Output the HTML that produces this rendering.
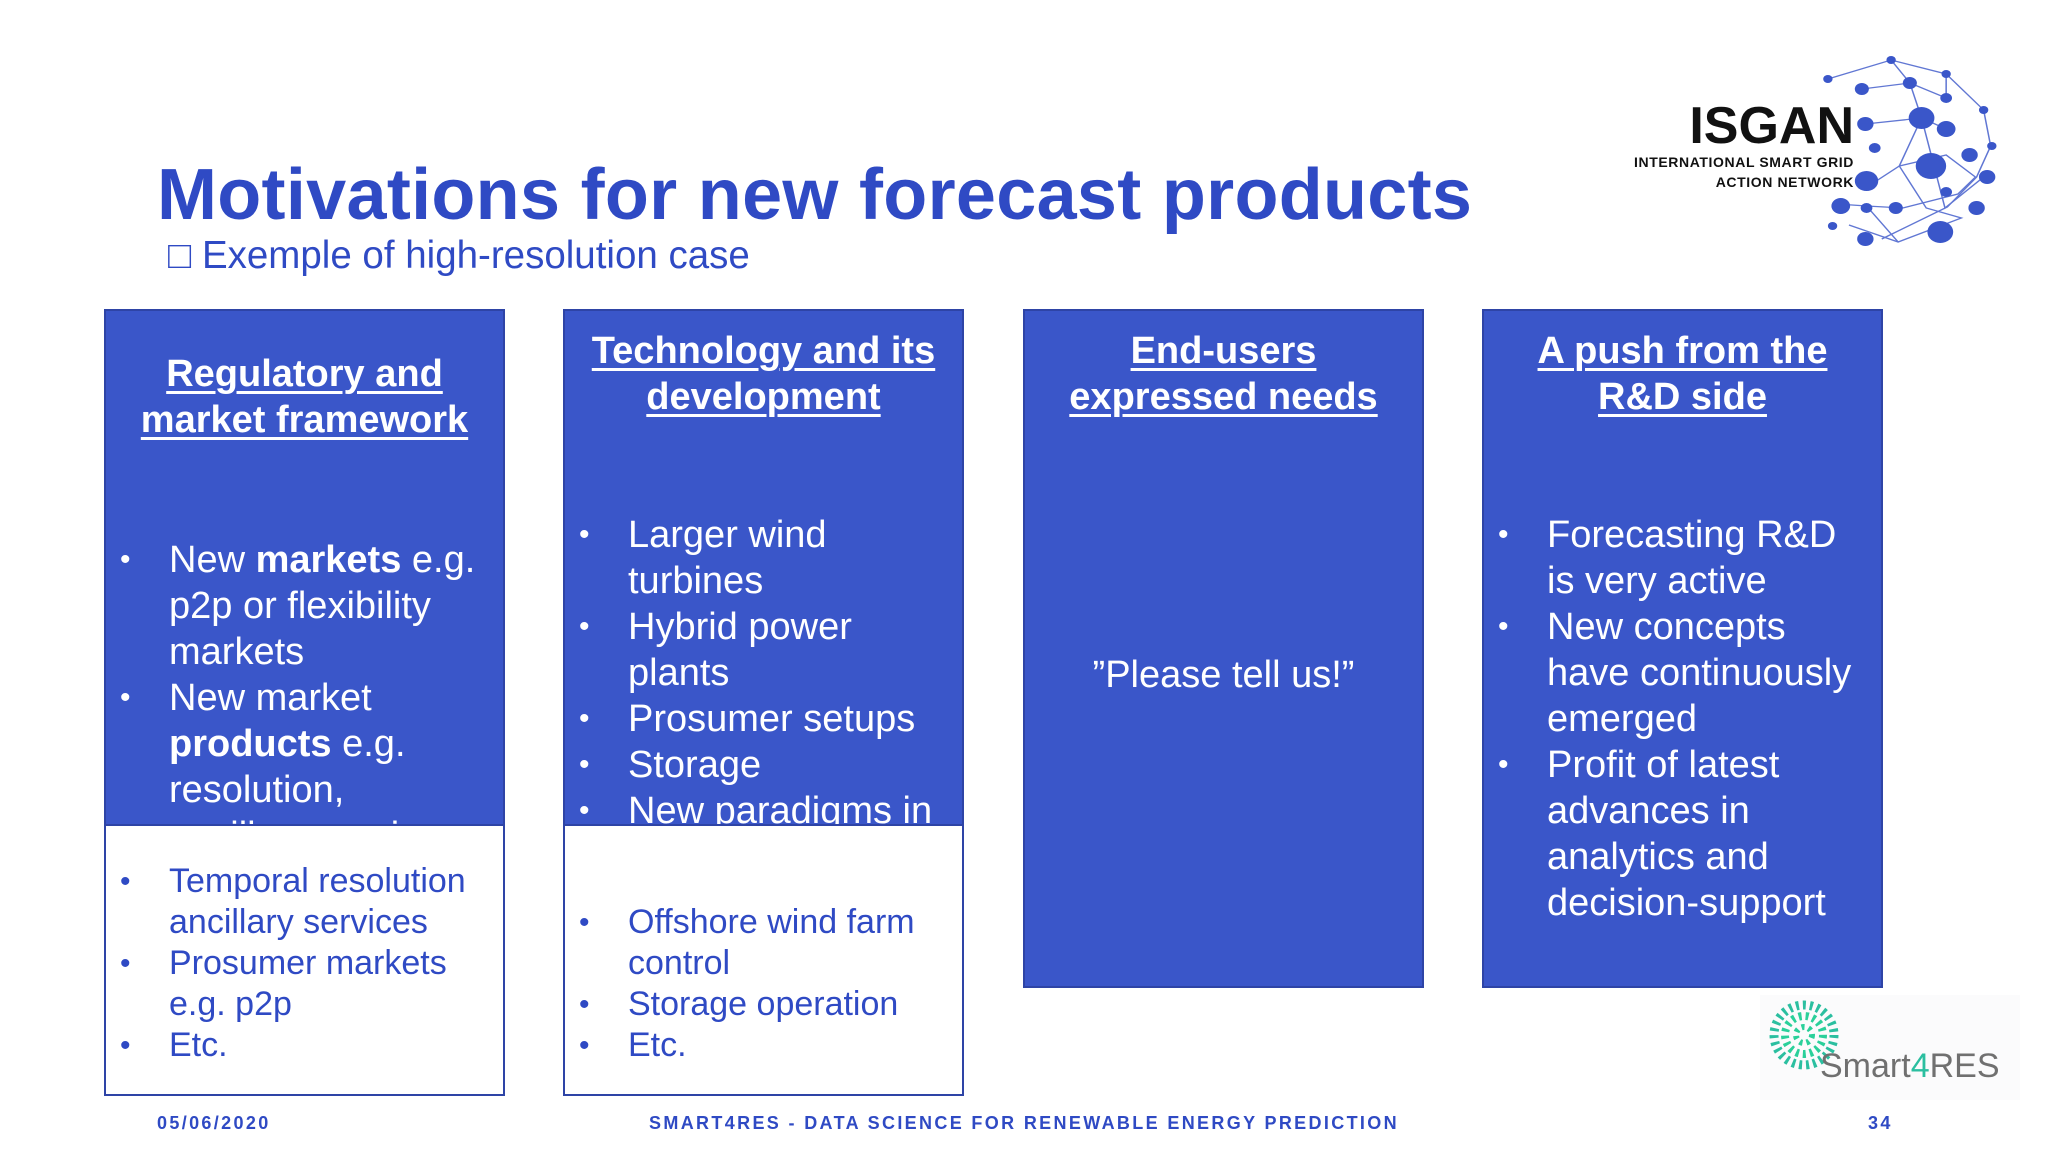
<!DOCTYPE html>
<html><head><meta charset="utf-8"><style>
*{margin:0;padding:0;box-sizing:border-box}
body{width:2048px;height:1152px;background:#fff;position:relative;overflow:hidden;font-family:"Liberation Sans",Arial,sans-serif}
.abs{position:absolute}
.title{left:157px;top:154px;font-size:72px;font-weight:bold;color:#2f4ac4;white-space:nowrap;letter-spacing:0.3px}
.sub{left:168px;top:234px;font-size:38.5px;color:#2f4ac4;white-space:nowrap}
.box{position:absolute;top:309px;width:401px;background:#3a56c9;border:2px solid #2e44a6;overflow:hidden;color:#fff}
.head{position:absolute;left:0;right:0;text-align:center;font-size:38px;font-weight:bold;text-decoration:underline;text-decoration-thickness:3px;text-underline-offset:5px;line-height:46px}
ul{list-style:none;position:absolute;left:0;right:0}
li{position:relative;padding-left:63px;padding-right:12px;font-size:38px;line-height:46px}
li::before{content:"•";position:absolute;left:14px;font-size:30px}
.low{position:absolute;background:#fff;border:2px solid #2e44a6;width:401px;color:#2f4ac4}
.low li{font-size:34px;line-height:41px}
.foot{top:1113px;font-size:18px;font-weight:bold;color:#2f4ac4;letter-spacing:2.35px;white-space:nowrap}
</style></head><body>
<div class="abs title">Motivations for new forecast products</div>
<div class="abs sub">&#9633; Exemple of high-resolution case</div>

<div class="box" style="left:104px;height:517px">
 <div class="head" style="top:40px">Regulatory and<br>market framework</div>
 <ul style="top:226px">
  <li>New <b>markets</b> e.g. p2p or flexibility markets</li>
  <li>New market <b>products</b> e.g. resolution, ancillary services</li>
 </ul>
</div>
<div class="low" style="left:104px;top:824px;height:272px">
 <ul style="top:35px">
  <li>Temporal resolution ancillary services</li>
  <li>Prosumer markets e.g. p2p</li>
  <li>Etc.</li>
 </ul>
</div>

<div class="box" style="left:563px;height:517px">
 <div class="head" style="top:17px">Technology and its<br>development</div>
 <ul style="top:201px">
  <li>Larger wind turbines</li>
  <li>Hybrid power plants</li>
  <li>Prosumer setups</li>
  <li>Storage</li>
  <li>New paradigms in control</li>
 </ul>
</div>
<div class="low" style="left:563px;top:824px;height:272px">
 <ul style="top:76px">
  <li>Offshore wind farm control</li>
  <li>Storage operation</li>
  <li>Etc.</li>
 </ul>
</div>

<div class="box" style="left:1023px;height:679px">
 <div class="head" style="top:17px">End-users<br>expressed needs</div>
 <div style="position:absolute;left:0;right:0;top:341px;text-align:center;font-size:38px;line-height:46px">”Please tell us!”</div>
</div>

<div class="box" style="left:1482px;height:679px">
 <div class="head" style="top:17px">A push from the<br>R&amp;D side</div>
 <ul style="top:201px">
  <li>Forecasting R&amp;D is very active</li>
  <li>New concepts have continuously emerged</li>
  <li>Profit of latest advances in analytics and decision-support</li>
 </ul>
</div>

<div class="abs foot" style="left:157px">05/06/2020</div>
<div class="abs foot" style="left:649px">SMART4RES - DATA SCIENCE FOR RENEWABLE ENERGY PREDICTION</div>
<div class="abs foot" style="left:1868px">34</div>

<svg class="abs" style="left:1620px;top:40px" width="420" height="220">
 <text x="234" y="103" text-anchor="end" font-family="Liberation Sans" font-weight="bold" font-size="52" fill="#111">ISGAN</text>
 <text x="234" y="127" text-anchor="end" font-family="Liberation Sans" font-weight="bold" font-size="14" fill="#111" letter-spacing="0.6">INTERNATIONAL SMART GRID</text>
 <text x="234" y="147" text-anchor="end" font-family="Liberation Sans" font-weight="bold" font-size="14" fill="#111" letter-spacing="0.6">ACTION NETWORK</text>
 <g transform="matrix(1.171,0,0,1,-31,0)">
 <g stroke="#3a56c9" stroke-width="1.3" fill="none" opacity="0.8">
  <polyline points="204,39 258,20 305,34 337,70 343,106 331,137 306,167 250,199"/>
  <polyline points="258,20 274,43 305,58 305,34"/><polyline points="233,49 274,43 284,78 305,89"/>
  <polyline points="236,84 284,78 304,168 337,137"/><polyline points="265,126 244,142"/>
  <polyline points="265,126 305,115 330,137 315,154 268,168 237,166"/><polyline points="284,78 265,126 288,168 318,178 264,202 222,185"/>
  <polyline points="212,164 237,166 264,202"/>
 </g>
 <g fill="#3a56c9">
  <circle cx="204" cy="39" r="4"/><circle cx="258" cy="20" r="4"/><circle cx="305" cy="34" r="4"/>
  <circle cx="233" cy="49" r="6"/><circle cx="274" cy="43" r="6"/><circle cx="305" cy="58" r="5"/>
  <circle cx="337" cy="70" r="4"/><circle cx="236" cy="84" r="7"/><circle cx="284" cy="78" r="11"/>
  <circle cx="305" cy="89" r="8"/><circle cx="244" cy="108" r="5"/><circle cx="292" cy="126" r="13"/>
  <circle cx="325" cy="115" r="7"/><circle cx="344" cy="106" r="4"/><circle cx="237" cy="141" r="10"/>
  <circle cx="340" cy="137" r="7"/><circle cx="305" cy="152" r="5"/><circle cx="262" cy="168" r="6"/>
  <circle cx="215" cy="166" r="8"/><circle cx="237" cy="168" r="5"/><circle cx="331" cy="168" r="7"/>
  <circle cx="300" cy="192" r="11"/><circle cx="236" cy="199" r="7"/><circle cx="208" cy="186" r="4"/>
 </g>
 </g>
</svg>

<svg class="abs" style="left:1760px;top:995px" width="260" height="105">
 <rect x="0" y="0" width="260" height="105" fill="#fbfbfc"/>
 <circle cx="44" cy="40" r="30" fill="none" stroke="#2bbfa0" stroke-width="9" stroke-dasharray="3 4"/>
 <circle cx="44" cy="40" r="19" fill="none" stroke="#2ad09a" stroke-width="8" stroke-dasharray="3 4"/>
 <circle cx="44" cy="40" r="8" fill="none" stroke="#2ad09a" stroke-width="6" stroke-dasharray="3 4"/>
 <text x="60" y="82" font-family="Liberation Sans" font-size="34" fill="#707070">Smart<tspan fill="#2bbfa0">4</tspan>RES</text>
</svg>
</body></html>
